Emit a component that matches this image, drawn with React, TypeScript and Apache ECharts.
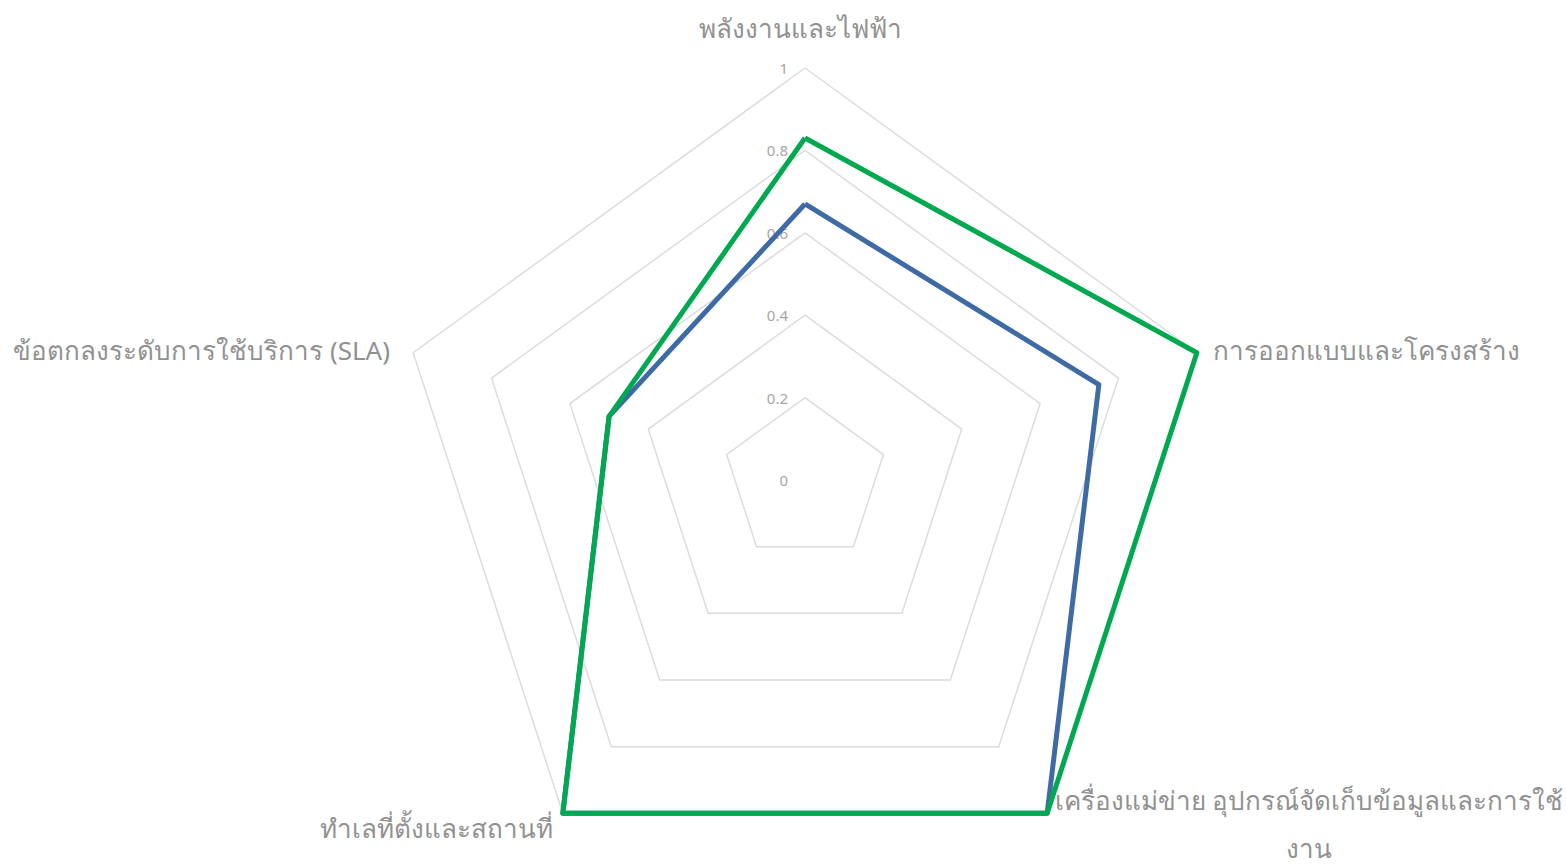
import React, { useEffect, useRef } from "react";
import * as echarts from "echarts";

// Indicators in ECharts order (top, then counter-clockwise)
const indicatorNames = [
  "พลังงานและไฟฟ้า",
  "ข้อตกลงระดับการใช้บริการ (SLA)",
  "ทำเลที่ตั้งและสถานที่",
  "เครื่องแม่ข่าย อุปกรณ์จัดเก็บข้อมูลและการใช้\nงาน",
  "การออกแบบและโครงสร้าง",
];
const seriesBlue = [0.67, 0.5, 1, 1, 0.75];
const seriesGreen = [0.83, 0.5, 1, 1, 1];
const tickLabels = ["0", "0.2", "0.4", "0.6", "0.8", "1"];

const NAME_COLOR = "#919191";
const FONT = "'Noto Sans', 'DejaVu Sans', sans-serif";

export default function App() {
  const ref = useRef<HTMLDivElement>(null);
  useEffect(() => {
    document.body.style.margin = "0";
    const chart = echarts.init(ref.current!, null, { renderer: "svg" });
    const cx = 805;
    const cy = 480;
    const r = 412;
    const namePos = [
      { x: 800, y: 28, align: "center" },
      { x: 390, y: 350, align: "right" },
      { x: 553, y: 828, align: "right" },
      { x: 1309, y: 824, align: "center" },
      { x: 1213, y: 350, align: "left" },
    ];
    chart.setOption({
      animation: false,
      backgroundColor: "#ffffff",
      radar: {
        center: [cx, cy],
        radius: r,
        startAngle: 90,
        splitNumber: 5,
        shape: "polygon",
        axisName: { show: false },
        axisLine: { show: false },
        axisTick: { show: false },
        splitArea: { show: false },
        splitLine: { lineStyle: { color: "#dcdcdc", width: 1.5 } },
        axisLabel: { show: false },
        indicator: indicatorNames.map((n) => ({
          name: n,
          min: 0,
          max: 1,
        })),
      },
      graphic: [
        ...indicatorNames.map((n, i) => ({
          type: "text",
          x: namePos[i].x,
          y: namePos[i].y,
          silent: true,
          style: {
            text: n,
            fill: NAME_COLOR,
            font: `26px ${FONT}`,
            align: namePos[i].align,
            verticalAlign: "middle",
            lineHeight: 48,
          },
        })),
        ...tickLabels.map((t, i) => ({
          type: "text",
          x: cx - 17,
          y: cy - (r * i) / (tickLabels.length - 1),
          silent: true,
          z: 0,
          style: {
            text: t,
            fill: "#a6a6a6",
            font: `15px ${FONT}`,
            align: "right",
            verticalAlign: "middle",
          },
        })),
      ],
      series: [
        {
          type: "radar",
          symbol: "none",
          z: 3,
          data: [
            {
              value: seriesBlue,
              name: "blue",
              lineStyle: { color: "#3e6aa6", width: 5 },
              itemStyle: { color: "#3e6aa6" },
            },
            {
              value: seriesGreen,
              name: "green",
              lineStyle: { color: "#00a84f", width: 5 },
              itemStyle: { color: "#00a84f" },
            },
          ],
        },
      ],
    });
    return () => chart.dispose();
  }, []);
  return <div ref={ref} style={{ width: 1567, height: 868 }} />;
}
